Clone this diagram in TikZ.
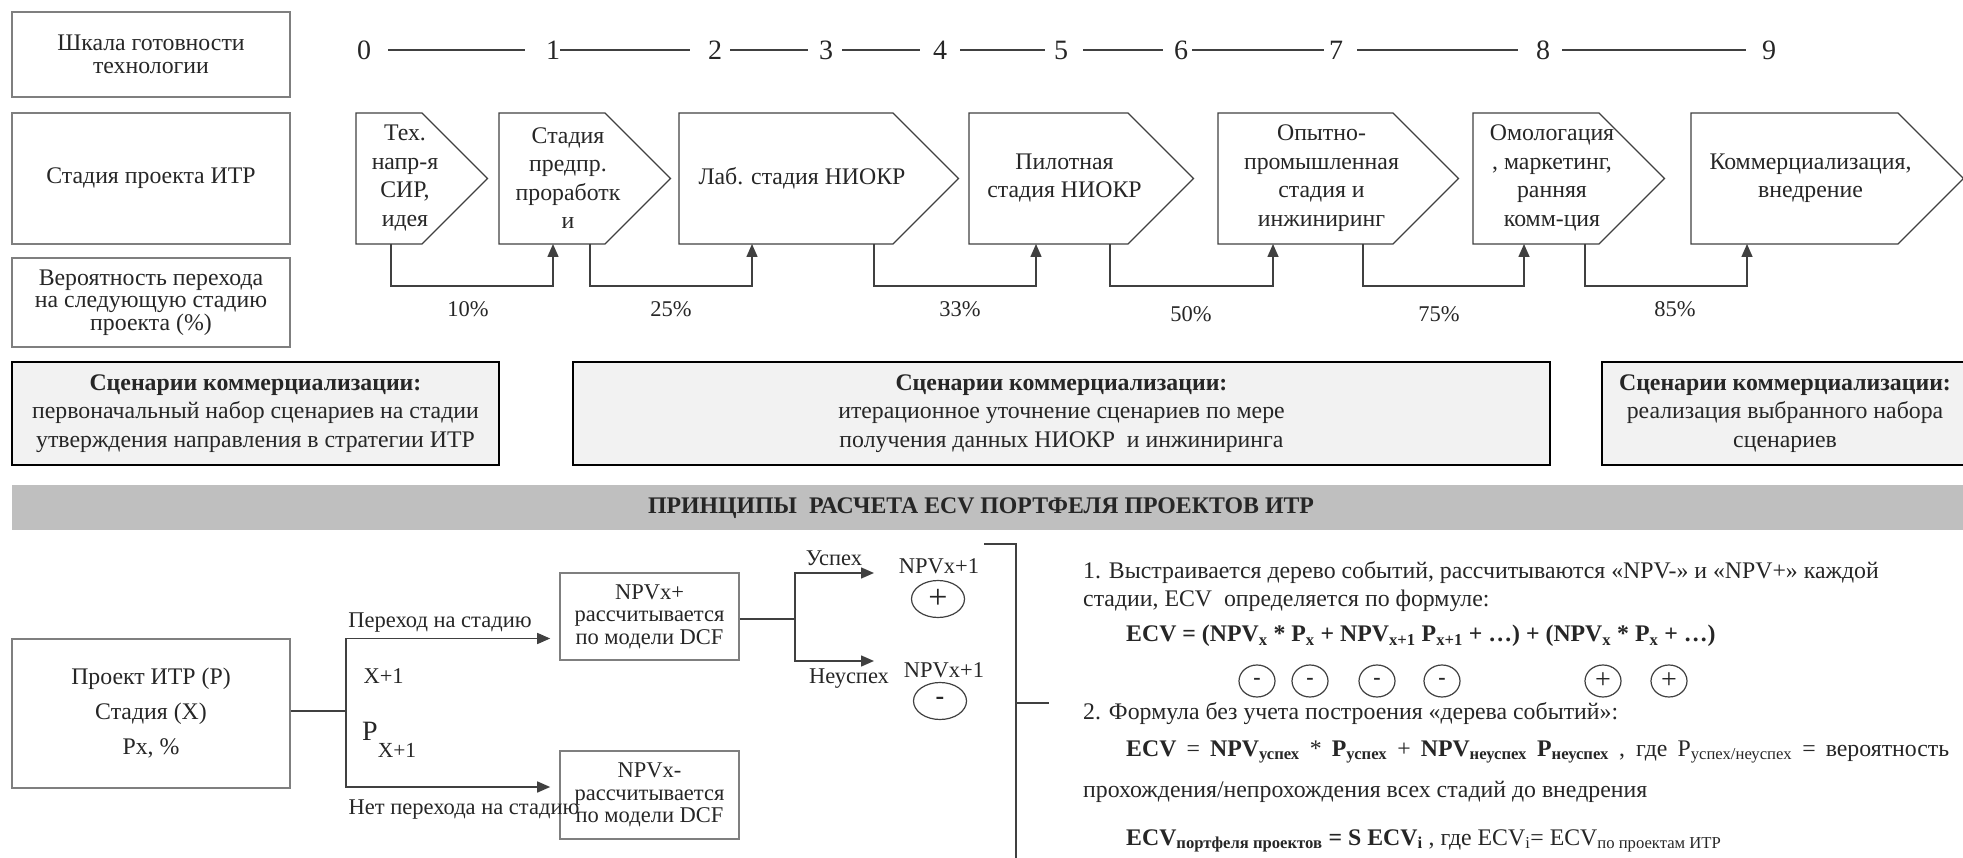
\documentclass[tikz,border=0pt]{standalone}
\usepackage{fontspec}
\setmainfont{Liberation Serif}
\usetikzlibrary{arrows.meta,calc,shapes.geometric}

\definecolor{linegray}{HTML}{404040}
\definecolor{boxgray}{HTML}{7F7F7F}
\definecolor{txtgray}{HTML}{262626}
\definecolor{scenfill}{HTML}{F2F2F2}
\definecolor{bandgray}{HTML}{BFBFBF}

\tikzset{
  rowbox/.style={draw=boxgray, line width=1.2pt, align=center, minimum width=278pt},
  stageline/.style={draw=linegray, line width=1.2pt},
  stagetext/.style={align=center, font=\fontsize{23.8}{28.5}\selectfont},
  tickline/.style={draw=linegray, line width=1.5pt},
  num/.style={font=\fontsize{28}{28}\selectfont, inner sep=0pt},
  pct/.style={font=\fontsize{22.5}{22.5}\selectfont},
  flow/.style={draw=linegray, line width=1.5pt, -{Triangle[length=13pt,width=11pt]}},
  scenbox/.style={draw=black, line width=1.6pt, fill=scenfill, align=center,
    minimum height=103pt, font=\fontsize{23.8}{28.5}\selectfont},
  treebox/.style={draw=boxgray, line width=1.6pt, align=center},
  wire/.style={draw=linegray, line width=1.5pt},
  sign/.style={draw=linegray, line width=1.2pt, ellipse, inner sep=0pt},
  note/.style={anchor=west, inner sep=0pt},
}

\begin{document}
\begin{tikzpicture}[x=1pt, y=-1pt, font=\fontsize{23.8}{28}\selectfont, text=txtgray]
    \useasboundingbox (0,0) rectangle (1963,858);

    % left column
    \node[rowbox, minimum height=85pt, font=\fontsize{23.8}{22.5}\selectfont] (trl) at (151,54.5) {Шкала готовности\\технологии};
    \node[rowbox, minimum height=131pt] (phase) at (151,178.5) {Стадия проекта ИТР};
    \node[rowbox, minimum height=89pt, font=\fontsize{23.8}{22.5}\selectfont] (prob) at (151,302.5) {Вероятность перехода\\на следующую стадию\\проекта (\%)};

    % readiness scale
    \foreach \n/\x in {0/364, 1/553, 2/715, 3/826, 4/940, 5/1061, 6/1181, 7/1336, 8/1543, 9/1769}
        \node[num] (n\n) at (\x,50) {\n};
    \foreach \a/\b/\s/\e in {0/1/17/21, 1/2/0/18, 2/3/8/11, 3/4/9/13, 4/5/13/9,
                             5/6/15/11, 6/7/4/5, 7/8/14/18, 8/9/12/16}
        \draw[tickline, shorten <=\s pt, shorten >=\e pt] (n\a.east) -- (n\b.west);

    % project stages
    \foreach \s/\l/\c/\t in {s1/356/422/{Тех.\\напр-я\\СИР,\\идея},
                             s2/499/605/{Стадия\\предпр.\\проработк\\и},
                             s3/679/893/{Лаб. стадия НИОКР},
                             s4/969/1128/{Пилотная\\стадия НИОКР},
                             s5/1218/1393/{Опытно-\\промышленная\\стадия и\\инжиниринг},
                             s6/1473/1599/{Омологация\\, маркетинг,\\ранняя\\комм-ция},
                             s7/1691/1898/{Коммерциализация,\\внедрение}} {
        \draw[stageline] (\l,113) -- (\c,113) -- (\c+65.5,178.5) -- (\c,244) -- (\l,244) -- cycle;
        \coordinate (\s) at (\l,244);
        \node[stagetext] (\s t) at ({(\l+\c)/2+16},178) {\t};
    }

    % transitions
    \draw[flow] ($(s1)+(35,0)$) -- ++(0,42) -| ($(s2)+(54,0)$);
    \draw[flow] ($(s2)+(91,0)$) -- ++(0,42) -| ($(s3)+(73,0)$);
    \draw[flow] ($(s3)+(195,0)$) -- ++(0,42) -| ($(s4)+(67,0)$);
    \draw[flow] ($(s4)+(141,0)$) -- ++(0,42) -| ($(s5)+(55,0)$);
    \draw[flow] ($(s5)+(145,0)$) -- ++(0,42) -| ($(s6)+(51,0)$);
    \draw[flow] ($(s6)+(112,0)$) -- ++(0,42) -| ($(s7)+(56,0)$);
    \node[pct] (p1) at (468,309) {10\%};
    \node[pct] (p2) at (671,309) {25\%};
    \node[pct] (p3) at (960,309) {33\%};
    \node[pct] (p4) at (1191,314) {50\%};
    \node[pct] (p5) at (1439,314) {75\%};
    \node[pct] (p6) at (1675,309) {85\%};

    % scenarios
    \node[scenbox, minimum width=487pt] (scA) at (255.5,413.5)
        {\textbf{Сценарии коммерциализации:}\\первоначальный набор сценариев на стадии\\утверждения направления в стратегии ИТР};
    \node[scenbox, minimum width=977pt] (scB) at (1061.5,413.5)
        {\textbf{Сценарии коммерциализации:}\\итерационное уточнение сценариев по мере\\получения данных НИОКР\ \ и инжиниринга};
    \node[scenbox, minimum width=366pt] (scC) at (1785,413.5)
        {\textbf{Сценарии коммерциализации:}\\реализация выбранного набора\\сценариев};

    % band
    \fill[bandgray] (12,485) rectangle (1963,530);
    \node[font=\bfseries\fontsize{23.8}{23.8}\selectfont] (band) at (981,508) {ПРИНЦИПЫ\ \ РАСЧЕТА ECV ПОРТФЕЛЯ ПРОЕКТОВ ИТР};

    % event tree
    \node[treebox, minimum width=278pt, minimum height=149pt, font=\fontsize{23.8}{35}\selectfont] (proj) at (151,713.5)
        {Проект ИТР (Р)\\Стадия (Х)\\Рх, \%};
    \node[treebox, minimum width=179pt, minimum height=87pt, font=\fontsize{22.5}{22.5}\selectfont] (npvp) at (649.5,616.5)
        {NPVx+\\рассчитывается\\по модели DCF};
    \node[treebox, minimum width=179pt, minimum height=88pt, font=\fontsize{22.5}{22.5}\selectfont] (npvm) at (649.5,795)
        {NPVx-\\рассчитывается\\по модели DCF};
    \coordinate (j1) at (346,711);
    \draw[wire] (proj.east |- j1) -- (j1);
    \draw[flow] (j1) |- ($(npvp.west)+(-9,22)$);
    \draw[flow] (j1) |- ($(npvm.west)+(-9,-8)$);
    \node[font=\fontsize{22.5}{22.5}\selectfont] (go) at (440,623) {Переход на стадию};
    \node[font=\fontsize{22.5}{22.5}\selectfont, anchor=west] (gox) at (360,676) {X+1};
    \node[anchor=west, inner sep=0pt] (px) at (362,740) {\fontsize{28}{28}\selectfont P\raisebox{-17pt}{\fontsize{21.5}{21.5}\selectfont X+1}};
    \node[font=\fontsize{22.5}{22.5}\selectfont] (nogo) at (464,810) {Нет перехода на стадию};

    \coordinate (j2) at (795,619);
    \draw[wire] (npvp.east |- j2) -- (j2);
    \draw[flow] (j2) |- (874,573);
    \draw[flow] (j2) |- (874,661);
    \node[font=\fontsize{22.5}{22.5}\selectfont] (ok) at (834,558) {Успех};
    \node[font=\fontsize{22.5}{22.5}\selectfont] (fail) at (849,679) {Неуспех};
    \node[font=\fontsize{22.5}{22.5}\selectfont] (up) at (939,566) {NPVx+1};
    \node[font=\fontsize{22.5}{22.5}\selectfont] (dn) at (944,670) {NPVx+1};
    \node[sign, minimum width=53pt, minimum height=37pt, font=\fontsize{34}{34}\selectfont] (plus) at (938,599) {+};
    \node[sign, minimum width=53pt, minimum height=37pt, font=\bfseries\fontsize{26}{26}\selectfont] (minus) at (940,701) {\raisebox{-5pt}{-}};

    % bracket
    \coordinate (bt) at (984,544);
    \coordinate (bm) at (1016,703);
    \draw[wire] (bt) -| (1016,862);
    \draw[wire] (bm) -- ++(33,0);

    % principles
    \node[note] (l1) at (1083,573) {1. Выстраивается дерево событий, рассчитываются «NPV-» и «NPV+» каждой};
    \node[note] (l2) at (1083,601) {стадии, ECV\ \ определяется по формуле:};
    \node[note, font=\bfseries\fontsize{23.8}{23.8}\selectfont] (f1) at (1126,636)
        {ECV = (NPV\textsubscript{x} * P\textsubscript{x} + NPV\textsubscript{x+1} P\textsubscript{x+1} + …) + (NPV\textsubscript{x} * P\textsubscript{x} + …)};
    \foreach \i/\x in {1/1257, 2/1310, 3/1377, 4/1442}
        \node[sign, minimum width=36pt, minimum height=32pt, font=\bfseries\fontsize{22}{22}\selectfont] (m\i) at (\x,681) {\raisebox{-3pt}{-}};
    \foreach \i/\x in {1/1603, 2/1669}
        \node[sign, minimum width=36pt, minimum height=32pt, font=\fontsize{28}{28}\selectfont] (a\i) at (\x,681) {+};
    \node[note] (l3) at (1083,714) {2. Формула без учета построения «дерева событий»:};
    \node[note] (f2) at (1126,752)
        {\makebox[823pt][s]{\textbf{ECV} = \textbf{NPV\textsubscript{успех}} * \textbf{P\textsubscript{успех}} + \textbf{NPV\textsubscript{неуспех}} \textbf{P\textsubscript{неуспех}} , где P\textsubscript{успех/неуспех} = вероятность}};
    \node[note] (l4) at (1083,792) {прохождения/непрохождения всех стадий до внедрения};
    \node[note] (f3) at (1126,841)
        {\textbf{ECV\textsubscript{портфеля проектов} = S ECV\textsubscript{i}} , где ECV\textsubscript{i}= ECV\textsubscript{по проектам ИТР}};
\end{tikzpicture}
\end{document}
